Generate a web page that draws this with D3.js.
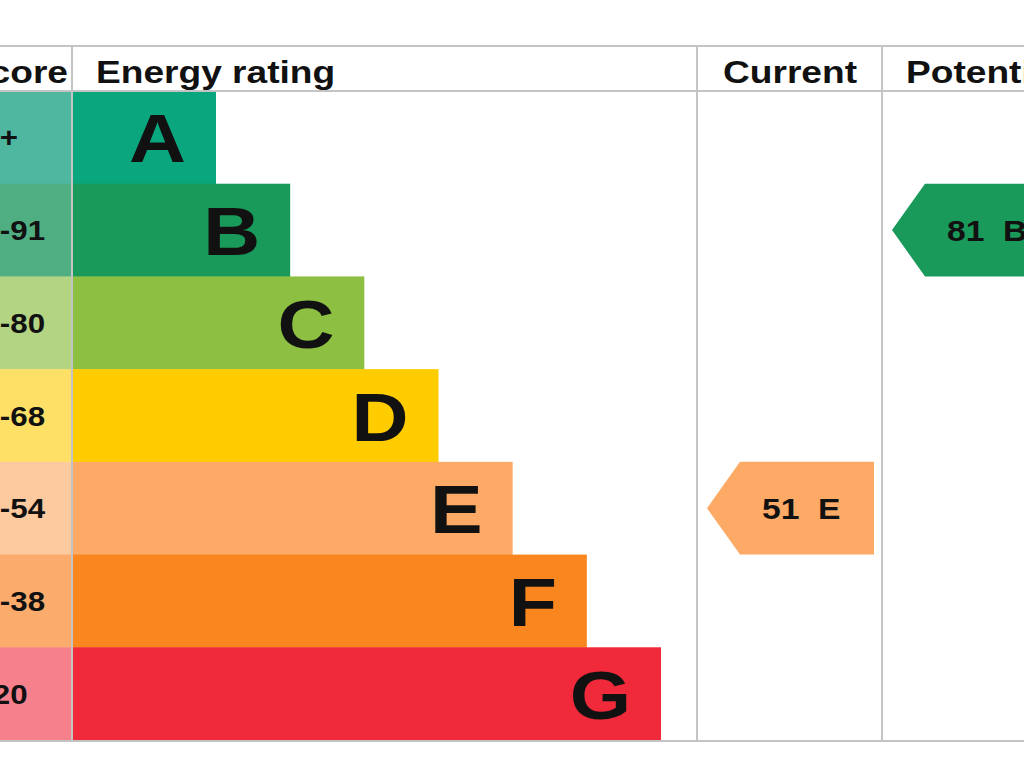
<!DOCTYPE html>
<html><head><meta charset="utf-8">
<script src="https://cdn.jsdelivr.net/npm/d3@7"></script>
<style>body{margin:0;background:#fff}svg{display:block}text{font-family:"Liberation Sans",Arial,sans-serif;font-weight:bold}</style>
</head><body><svg id="c" width="1024" height="768"></svg>
<script>
const bands = ["A","B","C","D","E","F","G"];
const scoreRanges = ["92+","81-91","69-80","55-68","39-54","21-38","1-20"];
const bandColors = ["#0aa67d","#1a9a5a","#8cbf42","#ffcc00","#fcaa65","#f9861f","#f12a3b"];
const scoreColors = ["#4fb6a0","#4faf82","#b2d483","#ffe066","#fdcaa0","#fbab6b","#f6808b"];
const headers = ["Score","Energy rating","Current","Potential"];
const currentScore = 51, currentBand = "E";
const potentialScore = 81, potentialBand = "B";

const SX = 1.16;
const svg = d3.select("#c");
const y = d3.scaleBand().domain(bands).range([91,740]).padding(0);
const x = d3.scaleLinear().domain([0,6]).range([216,661]);
const barX0 = 72;
function tr(px,py){return `translate(${px},${py}) scale(${SX},1)`;}

svg.selectAll("rect.s").data(bands).join("rect")
  .attr("x",-80).attr("y",d=>y(d)).attr("width",152).attr("height",y.bandwidth()+0.5)
  .attr("fill",(d,i)=>scoreColors[i]);
svg.selectAll("text.s").data(scoreRanges).join("text")
  .attr("transform",(d,i)=>tr(-35,y(bands[i])+y.bandwidth()/2+10))
  .attr("font-size",27).attr("fill","#111").text(d=>d);

svg.selectAll("rect.b").data(bands).join("rect")
  .attr("x",barX0).attr("y",d=>y(d)).attr("width",(d,i)=>x(i)-barX0).attr("height",y.bandwidth()+0.5)
  .attr("fill",(d,i)=>bandColors[i]);
svg.selectAll("text.b").data(bands).join("text")
  .attr("transform",(d,i)=>tr(x(i)-30,y(d)+y.bandwidth()/2+25))
  .attr("text-anchor","end").attr("font-size",68).attr("fill","#111").text(d=>d);

const g = svg.append("g").attr("stroke","#c4c4c4").attr("stroke-width",2);
g.append("line").attr("x1",0).attr("x2",1024).attr("y1",46).attr("y2",46);
g.append("line").attr("x1",0).attr("x2",1024).attr("y1",91).attr("y2",91);
g.append("line").attr("x1",0).attr("x2",1024).attr("y1",741).attr("y2",741);
[72,697,882].forEach(v=>g.append("line").attr("x1",v).attr("x2",v).attr("y1",46).attr("y2",741));

const hx = [68,96,723,906], ha=["end","start","start","start"];
headers.forEach((h,i)=>svg.append("text").attr("transform",tr(hx[i],83)).attr("text-anchor",ha[i])
  .attr("font-size",32).attr("fill","#111").text(h));

function arrow(tipX, right, band, score){
  const i = bands.indexOf(band), y0=y(band), y1=y0+y.bandwidth(), ym=(y0+y1)/2;
  const bx = tipX+33;
  svg.append("path").attr("d",`M${tipX},${ym}L${bx},${y0}L${right},${y0}L${right},${y1}L${bx},${y1}Z`)
    .attr("fill",bandColors[i]);
  svg.append("text").attr("transform",tr(tipX+55,ym+11)).attr("font-size",29).attr("fill","#111")
    .attr("xml:space","preserve").text(score+"  "+band);
}
arrow(707,874,currentBand,currentScore);
arrow(892,1070,potentialBand,potentialScore);
</script></body></html>
